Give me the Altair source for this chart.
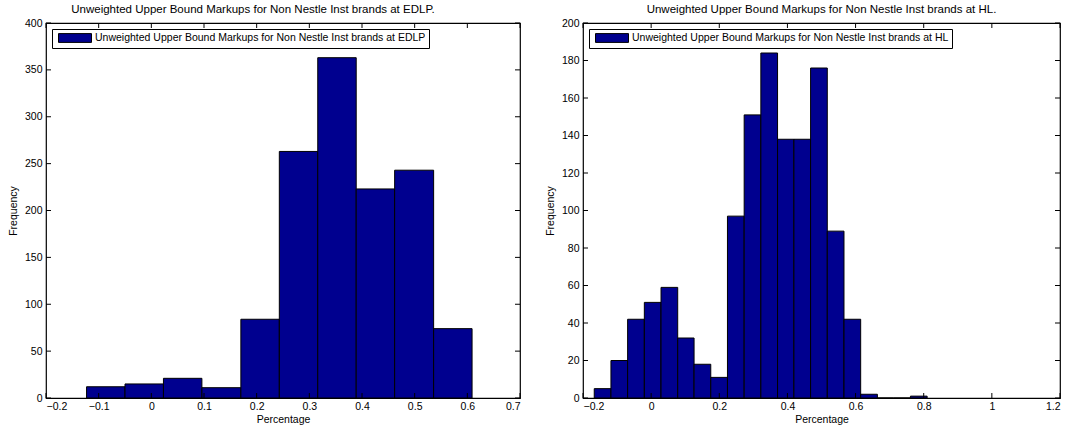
import altair as alt
import pandas as pd

# ---------------- data ----------------
edlp_label = "Unweighted Upper Bound Markups for Non Nestle Inst brands at EDLP"
edlp_title = "Unweighted Upper Bound Markups for Non Nestle Inst brands at EDLP."
edlp_edges = [-0.123, -0.050, 0.023, 0.096, 0.170, 0.243, 0.316, 0.389, 0.462, 0.536, 0.609]
edlp_counts = [12, 15, 21, 11, 84, 263, 363, 223, 243, 74]
edlp_xticks = [-0.2, -0.1, 0, 0.1, 0.2, 0.3, 0.4, 0.5, 0.6, 0.7]
edlp_yticks = [0, 50, 100, 150, 200, 250, 300, 350, 400]

hl_label = "Unweighted Upper Bound Markups for Non Nestle Inst brands at HL"
hl_title = "Unweighted Upper Bound Markups for Non Nestle Inst brands at HL."
hl_edges = [-0.167, -0.118, -0.069, -0.020, 0.029, 0.078, 0.126, 0.175, 0.224, 0.273,
            0.322, 0.371, 0.419, 0.468, 0.517, 0.566, 0.615, 0.664, 0.712, 0.761, 0.810]
hl_counts = [5, 20, 42, 51, 59, 32, 18, 11, 97, 151, 184, 138, 138, 176, 89, 42, 2, 0, 0, 1]
hl_xticks = [-0.2, 0, 0.2, 0.4, 0.6, 0.8, 1.0, 1.2]
hl_yticks = [0, 20, 40, 60, 80, 100, 120, 140, 160, 180, 200]

BAR_COLOR = "#00008F"
H = 375
TICK = 5
FONT = "Liberation Sans"


def panel(edges, counts, label, title, xticks, yticks, xdom, ydom, W, title_dx):
    bars_df = pd.DataFrame({
        "start": edges[:-1],
        "end": edges[1:],
        "count": counts,
        "series": [label] * len(counts),
    })
    xt = pd.DataFrame({"start": xticks})
    yt = pd.DataFrame({"count": yticks})

    xscale = alt.Scale(domain=xdom, nice=False, zero=False)
    yscale = alt.Scale(domain=ydom, nice=False, zero=False)
    xaxis = alt.Axis(values=xticks, format=".1~f", title="Percentage",
                     ticks=False, domain=False, grid=False,
                     labelPadding=3, titlePadding=3)
    yaxis = alt.Axis(values=yticks, title="Frequency", ticks=False,
                     domain=False, grid=False, labelPadding=4, titlePadding=6)

    bars = alt.Chart(bars_df).mark_bar(stroke="black", strokeWidth=1).encode(
        x=alt.X("start:Q", scale=xscale, axis=xaxis),
        x2="end:Q",
        y=alt.Y("count:Q", scale=yscale, axis=yaxis),
        y2=alt.datum(0),
        color=alt.Color("series:N",
                        scale=alt.Scale(domain=[label], range=[BAR_COLOR]),
                        legend=alt.Legend(
                            title=None, orient="top-left", offset=6,
                            strokeColor="black", fillColor="white",
                            padding=3,
                            symbolType="M-3,-0.8H3V0.8H-3Z",
                            symbolSize=121, symbolOffset=14,
                            symbolStrokeColor="black",
                            symbolStrokeWidth=1, symbolOpacity=1,
                            labelFontSize=10.5, labelFont=FONT,
                            labelColor="black", labelOffset=14,
                            labelLimit=600)),
    )

    rule = dict(color="black", strokeWidth=1)
    bottom = alt.Chart(xt).mark_rule(**rule).encode(
        x=alt.X("start:Q", scale=xscale, axis=xaxis),
        y=alt.value(H), y2=alt.value(H - TICK))
    top = alt.Chart(xt).mark_rule(**rule).encode(
        x=alt.X("start:Q", scale=xscale, axis=xaxis),
        y=alt.value(0), y2=alt.value(TICK))
    left = alt.Chart(yt).mark_rule(**rule).encode(
        y=alt.Y("count:Q", scale=yscale, axis=yaxis),
        x=alt.value(0), x2=alt.value(TICK))
    right = alt.Chart(yt).mark_rule(**rule).encode(
        y=alt.Y("count:Q", scale=yscale, axis=yaxis),
        x=alt.value(W), x2=alt.value(W - TICK))

    return alt.layer(bars, bottom, top, left, right).properties(
        width=W, height=H,
        title=alt.TitleParams(title, fontSize=11.5, font=FONT, fontWeight="normal",
                              color="black", offset=3, dx=title_dx),
    )


p1 = panel(edlp_edges, edlp_counts, edlp_label, edlp_title,
           edlp_xticks, edlp_yticks, [-0.2, 0.7], [0, 400], 474, -30)
p2 = panel(hl_edges, hl_counts, hl_label, hl_title,
           hl_xticks, hl_yticks, [-0.2, 1.2], [0, 200], 477, 0)

chart = alt.hconcat(p1, p2, spacing=22).resolve_scale(
    color="independent"
).resolve_legend(color="independent").properties(
    padding={"left": 7, "top": 2, "right": 5, "bottom": 3},
    background="white",
).configure_view(
    stroke="black", strokeWidth=1.2
).configure_axis(
    labelFont=FONT, labelFontSize=10.5, labelColor="black",
    titleFont=FONT, titleFontSize=10.5, titleColor="black", titleFontWeight="normal",
)

chart.save("out.html", embed_options={"renderer": "svg", "actions": False})
